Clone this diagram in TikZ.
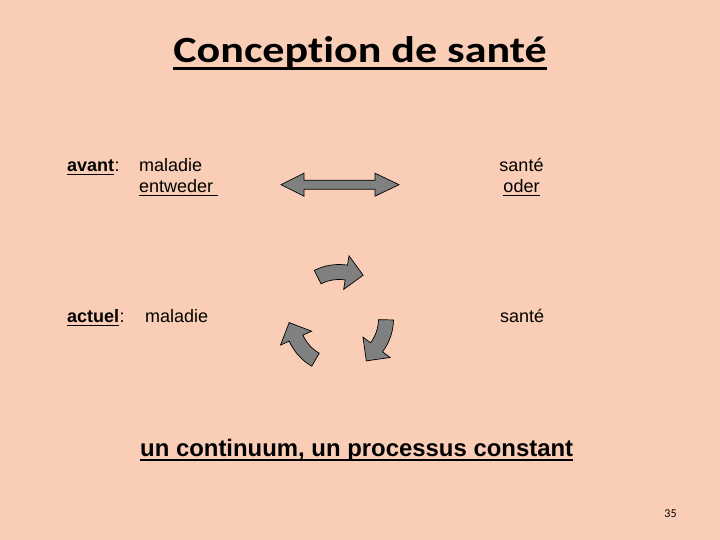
\documentclass[tikz,border=0pt]{standalone}
\usepackage{fontspec}
\setmainfont{Liberation Sans}
\newfontfamily\titlefont[Ligatures=NoCommon, FakeStretch=1.19]{Carlito}
\newfontfamily\pagefont{Carlito}
\usetikzlibrary{calc}
\definecolor{slidebg}{HTML}{F9CDB6}
\definecolor{arrowgray}{HTML}{808080}
% underline a node: name, depth below base, thickness
\newcommand{\ulnode}[3]{\draw[line width=#3] ([yshift=-#2]#1.base west) -- ([yshift=-#2]#1.base east);}

\begin{document}
\begin{tikzpicture}[x=1bp, y=1bp,
  every node/.style={inner sep=0pt, font=\fontsize{18bp}{21bp}\selectfont},
  txt/.style={anchor=base west},
  blockarrow/.style={fill=arrowgray, draw=black, line width=0.7bp, line join=miter}]
  \fill[slidebg] (0,0) rectangle (720,540);
  \useasboundingbox (0,0) rectangle (720,540);
  % title
  \node[anchor=base, font=\titlefont\bfseries\fontsize{37bp}{40bp}\selectfont] (title) at (360,477)
    {Conception de santé};
  \ulnode{title}{5.5bp}{2.2bp}
  % avant
  \node[txt, font=\bfseries\fontsize{18bp}{21bp}\selectfont] (avant) at (67,368) {avant};
  \node[txt] (avantcol) at (avant.base east) {:};
  \node[txt] (oldsick) at (139,368) {maladie};
  \node[txt] (either) at (139,347) {entweder\kern4.5bp};
  \node[anchor=base] (oldhealth) at (521.5,368) {santé};
  \node[anchor=base] (or) at (521.5,347) {oder};
  % actuel
  \node[txt, font=\bfseries\fontsize{18bp}{21bp}\selectfont] (actuel) at (67,217) {actuel};
  \node[txt] (actuelcol) at (actuel.base east) {:};
  \node[txt] (newsick) at (145,217) {maladie};
  \node[txt] (newhealth) at (500,217) {santé};
  \foreach \n in {avant,actuel}{\ulnode{\n}{2.5bp}{1.3bp}}
  \foreach \n in {either,or}{\ulnode{\n}{2.5bp}{1bp}}
  % bottom line
  \node[txt, font=\bfseries\fontsize{23.9bp}{28bp}\selectfont] (motto) at (140,83)
    {un continuum, un processus constant};
  \ulnode{motto}{3bp}{1.8bp}
  \node[anchor=base, font=\pagefont\fontsize{12bp}{14bp}\selectfont] (pagenum) at (670.5,22) {35};

  % double arrow
  \coordinate (dl) at (281,355.3);
  \coordinate (dr) at (399,355.3);
  \draw[blockarrow] (dl) -- ++(23,11.5) -- ++(0,-7) -- ($(dr)+(-24,4.5)$) -- ++(0,7) -- (dr)
    -- ++(-24,-11.5) -- ++(0,7) -- ($(dl)+(23,-4.5)$) -- ++(0,-7) -- cycle;

  % cycle of curved arrows
  \coordinate (cyc) at (339,221);
  \foreach \a in {117,-1,240}{
    \draw[blockarrow] ($(cyc)+(\a:54.5)$) arc[start angle=\a, end angle=\a-36, radius=54.5]
      -- ($(cyc)+(\a-36:64)$) -- ($(cyc)+(\a-36:47)+(\a-126:17)$)
      -- ($(cyc)+(\a-36:30)$) -- ($(cyc)+(\a-36:39.5)$)
      arc[start angle=\a-36, end angle=\a, radius=39.5] -- cycle;
  }
\end{tikzpicture}
\end{document}
